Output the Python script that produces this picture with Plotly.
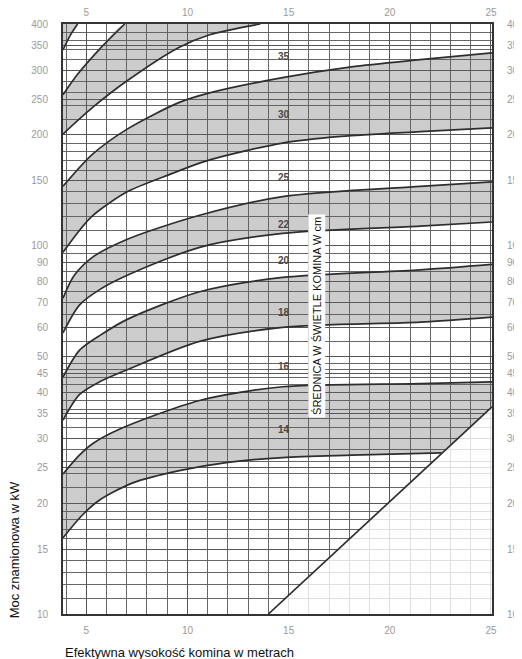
import math
import plotly.graph_objects as go

# ---------------- data ----------------
X_RANGE = [3.85, 25.05]          # effective chimney height, m
Y_MIN, Y_MAX = 10, 400           # rated power, kW (log)

X_TICKS = [5, 10, 15, 20, 25]
X_MINOR = [4, 6, 7, 8, 9, 11, 12, 13, 14, 16, 17, 18, 19, 21, 22, 23, 24]
Y_TICKS = [10, 15, 20, 25, 30, 35, 40, 45, 50, 60, 70, 80, 90, 100,
           150, 200, 250, 300, 350, 400]
Y_MINOR = [11, 12, 13, 14, 16, 17, 18, 19,
           22, 24, 26, 28, 32, 34, 36, 38, 42, 44, 46, 48,
           55, 65, 75, 85, 95,
           110, 120, 130, 140, 160, 170, 180, 190,
           220, 240, 260, 280, 320, 340, 360, 380]

# boundary curves between diameter bands (top-left to bottom)
X1 = [3.85, 4.2, 4.57]
Y1 = [340, 372, 400]
X2 = [3.85, 4.57, 5.66, 6.9]
Y2 = [257, 292, 342, 400]
X3 = [3.85, 5.3, 7.0, 9.6, 11.1, 13.6]
Y3 = [201, 237, 280, 346, 374, 400]
X4 = [3.85, 5.3, 7.0, 9.6, 11.1, 14.7, 18.1, 21.5, 25.05]
Y4 = [145, 177, 207, 245, 260, 286, 306, 320, 334]
X5 = [3.85, 4.66, 5.2, 5.66, 7.0, 9.1, 11.1, 14.7, 17.6, 21.5, 25.05]
Y5 = [96, 110, 119, 125, 140, 156, 171, 190, 198, 204, 209]
X6 = [3.85, 4.4, 5.3, 7.0, 10.6, 14.7, 21.5, 25.05]
Y6 = [72, 83, 93, 104, 121, 136, 145, 149]
X7 = [3.85, 4.66, 5.66, 7.0, 10.6, 14.7, 21.5, 25.05]
Y7 = [58, 69, 76, 83, 99, 108, 113, 116]
X8 = [3.85, 4.66, 5.66, 7.0, 10.6, 14.7, 21.5, 25.05]
Y8 = [44, 52, 57, 63, 75, 82, 86, 89]
X9 = [3.85, 4.66, 5.66, 7.0, 10.6, 14.7, 21.5, 25.05]
Y9 = [33.6, 39.4, 42.7, 46, 55, 60, 62, 64]
X10 = [3.85, 4.66, 5.31, 6.55, 10.6, 14.7, 21.5, 25.05]
Y10 = [24, 27, 29, 31.6, 38, 41.4, 42.2, 42.7]
X11 = [3.85, 4.82, 5.66, 7.3, 9.6, 12.0, 14.7, 18.1, 22.55]
Y11 = [16.1, 18.6, 20.4, 22.7, 24.5, 25.8, 26.6, 27.0, 27.4]

# diagonal limit line
XD = [14.0, 25.05]
YD = [10, 36.5]

# diameter labels (cm)
DIAM_LABELS = ["35", "30", "25", "22", "20", "18", "16", "14"]
DIAM_Y = [326, 227, 153, 114, 91, 65.8, 46.9, 31.6]
DIAM_X = 14.75

# ---------------- figure ----------------
GRAY = "rgba(95,95,95,0.32)"
LINE = "#2e2e2e"
SMOOTH = 0.8
fig = go.Figure()


def band(xl, yl, xu, yu, lower_shape="spline"):
    fig.add_trace(go.Scatter(x=xl, y=yl, mode="lines",
                             line=dict(width=0, shape=lower_shape, smoothing=SMOOTH),
                             hoverinfo="skip", showlegend=False))
    fig.add_trace(go.Scatter(x=xu, y=yu, mode="lines",
                             line=dict(width=0, shape="spline", smoothing=SMOOTH),
                             fill="tonexty", fillcolor=GRAY, hoverinfo="skip", showlegend=False))


# gray bands (alternating)
band(X1, Y1, [X_RANGE[0], X1[-1]], [Y_MAX, Y_MAX])
band(X3, Y3, X2 + [X3[-1]], Y2 + [Y_MAX])
band(X5, Y5, X4, Y4)
band(X7, Y7, X6, Y6)
band(X9, Y9, X8, Y8)
band(X11 + [XD[1]], Y11 + [YD[1]], X10, Y10, lower_shape="linear")

# faded area below the diagonal
fig.add_trace(go.Scatter(x=[XD[0], XD[1], XD[1]], y=[YD[0], YD[1], YD[0]], mode="lines",
                         fill="toself", fillcolor="rgba(255,255,255,0.8)",
                         line=dict(width=0), hoverinfo="skip", showlegend=False))

# curve lines
for xs, ys in [(X1, Y1), (X2, Y2), (X3, Y3), (X4, Y4), (X5, Y5), (X6, Y6),
               (X7, Y7), (X8, Y8), (X9, Y9), (X10, Y10), (X11, Y11)]:
    fig.add_trace(go.Scatter(x=xs, y=ys, mode="lines",
                             line=dict(color=LINE, width=1.7, shape="spline", smoothing=SMOOTH),
                             hoverinfo="skip", showlegend=False))
fig.add_trace(go.Scatter(x=XD, y=YD, mode="lines", line=dict(color=LINE, width=1.7),
                         hoverinfo="skip", showlegend=False))

# helper trace for the mirrored (top / right) axes
fig.add_trace(go.Scatter(x=[10], y=[100], xaxis="x2", yaxis="y2", mode="markers",
                         marker=dict(opacity=0), hoverinfo="skip", showlegend=False))

# diameter labels (annotation y on a log axis is given in log10 units)
for lab, yv in zip(DIAM_LABELS, DIAM_Y):
    fig.add_annotation(x=DIAM_X, y=math.log10(yv), yref="y", xref="x", text="<b>" + lab + "</b>",
                       showarrow=False, font=dict(size=10, color="#4a4a4a",
                                                  family="Liberation Sans"))

fig.add_annotation(x=16.37, y=math.log10(64.6), xref="x", yref="y",
                   text="ŚREDNICA W ŚWIETLE KOMINA W cm",
                   textangle=-90, showarrow=False, bgcolor="white", borderpad=2,
                   font=dict(size=11, color="#111", family="Liberation Sans"))

fig.add_annotation(x=-0.114, y=0.108, xref="paper", yref="paper", text="Moc znamionowa w kW",
                   textangle=-90, showarrow=False, xanchor="center", yanchor="middle",
                   font=dict(size=13, color="#111", family="Liberation Sans"))
fig.add_annotation(x=0, y=-0.066, xref="paper", yref="paper",
                   text="Efektywna wysokość komina w metrach", showarrow=False,
                   xanchor="left", yanchor="middle",
                   font=dict(size=13, color="#111", family="Liberation Sans"))

TICKFONT = dict(size=10, color="#9a9a9a", family="Liberation Sans")
YTEXT = [str(v) for v in Y_TICKS]
XTEXT = [str(v) for v in X_TICKS]

# the page body adds an 8 px offset, so margins are shifted to keep the plot
# area at x 63..492, y 24..614 of the window
fig.update_layout(
    width=522, height=659,
    margin=dict(l=55, r=38, t=16, b=53, autoexpand=False),
    paper_bgcolor="white", plot_bgcolor="white",
    showlegend=False,
    xaxis=dict(range=X_RANGE, tickvals=X_TICKS, ticktext=XTEXT, tickfont=TICKFONT,
               showgrid=True, gridcolor="#555", gridwidth=1,
               minor=dict(tickvals=X_MINOR, showgrid=True, gridcolor="#666", gridwidth=1),
               showline=True, linecolor="#333", linewidth=2, mirror=True,
               ticks="", ticklabelstandoff=6, zeroline=False, fixedrange=True,
               automargin=False),
    yaxis=dict(type="log", range=[1, 2.60206], tickvals=Y_TICKS, ticktext=YTEXT,
               tickfont=TICKFONT, showgrid=True, gridcolor="#555", gridwidth=1,
               minor=dict(tickvals=Y_MINOR, showgrid=True, gridcolor="#666", gridwidth=1),
               showline=True, linecolor="#333", linewidth=2, mirror=True,
               ticks="", ticklabelstandoff=11, zeroline=False, fixedrange=True,
               automargin=False),
    xaxis2=dict(range=X_RANGE, overlaying="x", side="top", anchor="y2",
                tickvals=X_TICKS, ticktext=XTEXT, tickfont=TICKFONT,
                showgrid=False, showline=False, ticks="", ticklabelstandoff=5,
                zeroline=False, fixedrange=True, automargin=False),
    yaxis2=dict(type="log", range=[1, 2.60206], overlaying="y", side="right", anchor="x2",
                tickvals=Y_TICKS, ticktext=YTEXT, tickfont=TICKFONT,
                showgrid=False, showline=False, ticks="", ticklabelstandoff=14,
                zeroline=False, fixedrange=True, automargin=False),
)

fig.write_html("out.html")
